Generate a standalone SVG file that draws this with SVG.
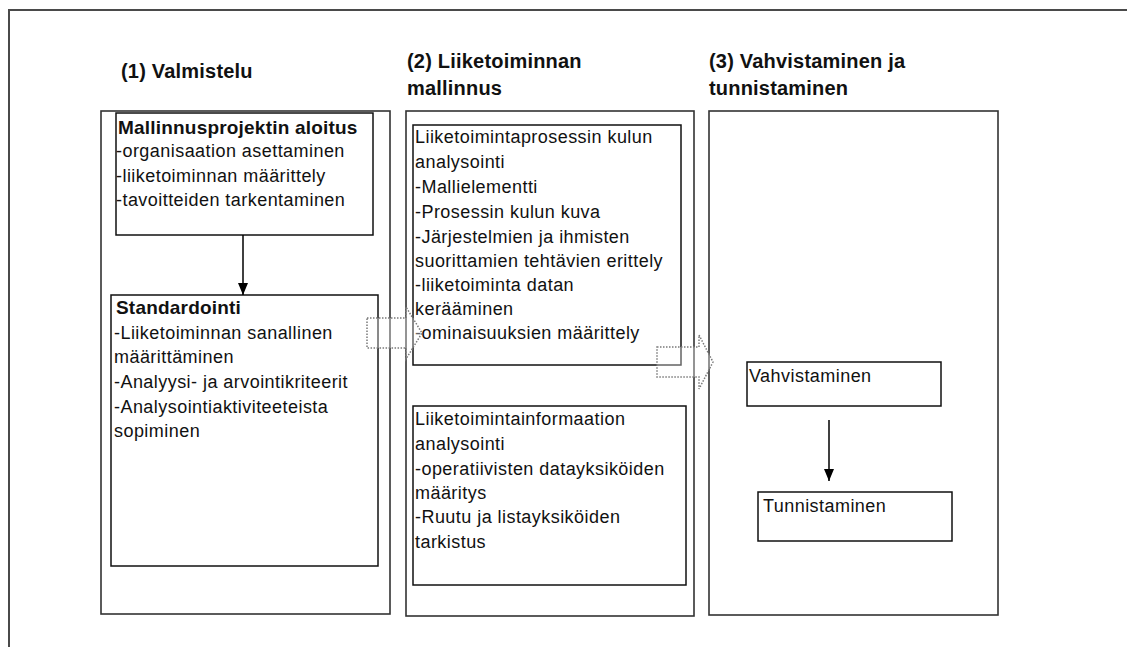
<svg xmlns="http://www.w3.org/2000/svg" width="1127" height="647" viewBox="0 0 1127 647">
  <defs>
    <style>
      .frame { fill: none; stroke: #4a4a4a; stroke-width: 2; }
      .col { fill: #fff; stroke: #333; stroke-width: 1.6; }
      .box { fill: #fff; stroke: #111; stroke-width: 1.5; }
      .title { font-family: "Liberation Sans", Arial, sans-serif; font-weight: bold; font-size: 20px; letter-spacing: 0.2px; fill: #111; }
      .txt { font-family: "Liberation Sans", Arial, sans-serif; font-size: 18px; letter-spacing: 0.45px; fill: #111; }
      .bold { font-weight: bold; font-size: 19px; letter-spacing: 0.2px; }
      .link { stroke: #000; stroke-width: 1.5; fill: none; marker-end: url(#head); }
      .block { fill: #fff; fill-opacity: 0.35; stroke: #7a7a7a; stroke-width: 1.5; stroke-dasharray: 1.5 1.5; }
    </style>
    <marker id="head" viewBox="0 0 12 10" refX="12" refY="5" markerWidth="12" markerHeight="10" markerUnits="userSpaceOnUse" orient="auto">
      <path d="M0,0 L12,5 L0,10 z" fill="#000"/>
    </marker>
  </defs>

  <rect width="1127" height="647" fill="#fff"/>
  <!-- outer frame: top and left edges only -->
  <path class="frame" d="M9,647 V10 H1127"/>

  <!-- phase titles -->
  <g id="titles">
    <text class="title" x="121" y="78">(1) Valmistelu</text>
    <text class="title" x="407" y="68">(2) Liiketoiminnan</text>
    <text class="title" x="407" y="95">mallinnus</text>
    <text class="title" x="709" y="68">(3) Vahvistaminen ja</text>
    <text class="title" x="709" y="95">tunnistaminen</text>
  </g>

  <!-- phase columns -->
  <g id="col1"><rect class="col" x="101" y="111" width="289" height="503"/></g>
  <g id="col2"><rect class="col" x="406" y="111" width="288" height="505"/></g>
  <g id="col3"><rect class="col" x="709" y="111" width="289" height="504"/></g>

  <!-- phase 1 -->
  <g id="aloitus">
    <rect class="box" x="116" y="113" width="257" height="122"/>
    <text class="txt bold" x="118" y="134">Mallinnusprojektin aloitus</text>
    <text class="txt" x="116" y="157">-organisaation asettaminen</text>
    <text class="txt" x="116" y="182">-liiketoiminnan määrittely</text>
    <text class="txt" x="116" y="206">-tavoitteiden tarkentaminen</text>
  </g>
  <g id="standardointi">
    <rect class="box" x="111" y="295" width="267" height="271"/>
    <text class="txt bold" x="116" y="314">Standardointi</text>
    <text class="txt" x="114" y="339">-Liiketoiminnan sanallinen</text>
    <text class="txt" x="114" y="363">määrittäminen</text>
    <text class="txt" x="114" y="388">-Analyysi- ja arvointikriteerit</text>
    <text class="txt" x="114" y="413">-Analysointiaktiviteeteista</text>
    <text class="txt" x="114" y="437">sopiminen</text>
  </g>

  <!-- phase 2 -->
  <g id="prosessi">
    <rect class="box" x="413" y="125" width="268" height="240"/>
    <text class="txt" x="415" y="143">Liiketoimintaprosessin kulun</text>
    <text class="txt" x="415" y="168">analysointi</text>
    <text class="txt" x="415" y="193">-Mallielementti</text>
    <text class="txt" x="415" y="218">-Prosessin kulun kuva</text>
    <text class="txt" x="415" y="243">-Järjestelmien ja ihmisten</text>
    <text class="txt" x="415" y="267">suorittamien tehtävien erittely</text>
    <text class="txt" x="415" y="291">-liiketoiminta datan</text>
    <text class="txt" x="415" y="315">kerääminen</text>
    <text class="txt" x="415" y="339">-ominaisuuksien määrittely</text>
  </g>
  <g id="informaatio">
    <rect class="box" x="413" y="406" width="273" height="179"/>
    <text class="txt" x="415" y="425">Liiketoimintainformaation</text>
    <text class="txt" x="415" y="450">analysointi</text>
    <text class="txt" x="415" y="475">-operatiivisten datayksiköiden</text>
    <text class="txt" x="415" y="499">määritys</text>
    <text class="txt" x="415" y="523">-Ruutu ja listayksiköiden</text>
    <text class="txt" x="415" y="548">tarkistus</text>
  </g>

  <!-- phase 3 -->
  <g id="vahvistaminen">
    <rect class="box" x="747" y="362" width="194" height="44"/>
    <text class="txt" x="749" y="382">Vahvistaminen</text>
  </g>
  <g id="tunnistaminen">
    <rect class="box" x="758" y="492" width="194" height="49"/>
    <text class="txt" x="763" y="512">Tunnistaminen</text>
  </g>

  <!-- connectors -->
  <g id="connectors">
    <line class="link" x1="243" y1="235" x2="243" y2="295"/>
    <line class="link" x1="829" y1="420" x2="829" y2="481"/>
    <polygon class="block" points="367,318 406,318 406,307 422,333 406,359 406,348 367,348"/>
    <polygon class="block" points="657,347 699,347 699,335 713,362 699,389 699,377 657,377"/>
  </g>
</svg>
